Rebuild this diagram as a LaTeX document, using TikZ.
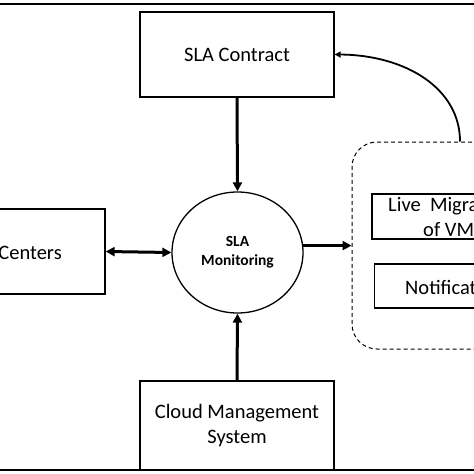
\documentclass[tikz,border=0pt]{standalone}
\usepackage{fontspec}
\setmainfont{Carlito}
\usetikzlibrary{arrows.meta,shapes.geometric}
\tikzset{
  box/.style={draw, line width=1.3pt, rectangle, inner sep=0pt},
  big/.style={font=\fontsize{20.5}{25}\selectfont},
  thick arrow/.style={line width=3pt, -{Triangle[length=9pt,width=9pt]}},
  dbl arrow/.style={line width=3pt, {Triangle[length=9pt,width=9pt]}-{Triangle[length=9pt,width=9pt]}},
  rule/.style={line width=2.6pt}
}
\begin{document}
\begin{tikzpicture}[x=1pt,y=-1pt]
\useasboundingbox (0,0) rectangle (474,474);
\clip (0,0) rectangle (474,474);
\fill[white] (0,0) rectangle (474,474);
% frame lines
\draw[rule] (0,4) -- (474,4);
% nodes
\node[box, big, minimum width=194pt, minimum height=85pt] (contract) at (237,54.5) {SLA Contract};
\node[draw, ellipse, line width=1.3pt, inner sep=0pt, minimum width=131pt, minimum height=121pt,
      align=center, font=\fontsize{15.5}{19}\selectfont\bfseries] (mon) at (237.5,252.5) {SLA\\Monitoring};
\node[box, minimum width=195pt, minimum height=85pt] (centers) at (7.5,251.5) {};
\node[big, anchor=east, inner sep=0pt] (centerstxt) at (62,253) {Centers};
\node[draw, dashed, dash pattern=on 4pt off 3pt, line width=1pt, rounded corners=25pt,
      minimum width=208pt, minimum height=207pt, inner sep=0pt] (grp) at (456,245.5) {};
\node[box, minimum width=152pt, minimum height=45pt] (live) at (448,216.5) {};
\node[big, anchor=west, inner sep=0pt] (livetxt1) at (388,206) {Live\hspace{0.45em}Migra};
\node[big, anchor=west, inner sep=0pt] (livetxt2) at (423,229.5) {of VM};
\node[box, minimum width=155pt, minimum height=44pt] (notif) at (452,286) {};
\node[big, anchor=west, inner sep=0pt] (notiftxt) at (405,287) {Notificat};
\node[box, big, minimum width=194pt, minimum height=89pt, align=center] (cms) at (237,425.5) {Cloud Management\\System};
% connectors
\draw[thick arrow] (contract.south) -- (mon.north);
\draw[thick arrow] (cms.north) -- (mon.south);
\draw[dbl arrow] (centers.east) -- (mon.west);
\draw[thick arrow] (mon.6) -- (grp.west |- mon.6);
\draw[line width=1.8pt, -{Triangle[length=6pt,width=6pt]}] ([xshift=4pt]grp.north) .. controls (460,88) and (405,55) .. (contract.east);
\draw[rule] (0,470) -- (474,470);
\end{tikzpicture}
\end{document}
